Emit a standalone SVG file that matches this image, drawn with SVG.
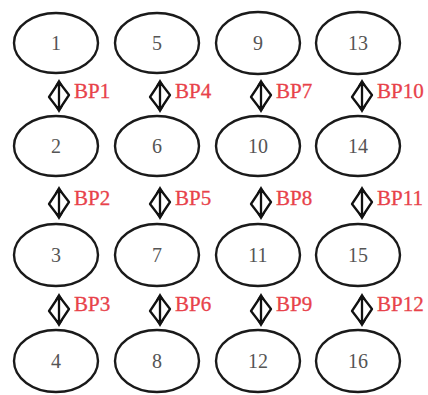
<svg xmlns="http://www.w3.org/2000/svg" xmlns:xlink="http://www.w3.org/1999/xlink" width="428" height="395" viewBox="0 0 428 395">
<style>
.n ellipse{fill:#fff;stroke:#1a1a1a;stroke-width:2.4}
.n text{font-family:"Liberation Serif","Times New Roman",serif;font-size:20px;fill:#555;text-anchor:middle}
.bp{font-family:"Liberation Serif","Times New Roman",serif;font-size:21px;fill:#e8424a;stroke:#e8424a;stroke-width:0.3}
.c path{fill:none;stroke:#111;stroke-width:2.3;stroke-linejoin:round}
.c path.h{fill:#111;stroke:none}
</style>
<defs>
<g id="conn" class="c">
<path d="M0,-14 L-10,1 L0,14 L10,-1 Z"/>
<path d="M0,-12 V12"/>
<path class="h" d="M0,-17 L-4,-10 L4,-10 Z"/>
<path class="h" d="M0,17 L-4,10 L4,10 Z"/>
</g>
</defs>
<rect width="428" height="395" fill="#fff"/>
<g id="n1" class="n"><ellipse cx="56" cy="43" rx="42" ry="30"/><text x="56" y="50">1</text></g>
<g id="n2" class="n"><ellipse cx="56" cy="146" rx="42" ry="30"/><text x="56" y="153">2</text></g>
<g id="n3" class="n"><ellipse cx="56" cy="255" rx="42" ry="31"/><text x="56" y="262">3</text></g>
<g id="n4" class="n"><ellipse cx="56" cy="361" rx="42" ry="31"/><text x="56" y="368">4</text></g>
<g id="n5" class="n"><ellipse cx="157" cy="43" rx="42" ry="30"/><text x="157" y="50">5</text></g>
<g id="n6" class="n"><ellipse cx="157" cy="146" rx="42" ry="30"/><text x="157" y="153">6</text></g>
<g id="n7" class="n"><ellipse cx="157" cy="255" rx="42" ry="31"/><text x="157" y="262">7</text></g>
<g id="n8" class="n"><ellipse cx="157" cy="361" rx="42" ry="31"/><text x="157" y="368">8</text></g>
<g id="n9" class="n"><ellipse cx="258" cy="43" rx="42" ry="31"/><text x="258" y="50">9</text></g>
<g id="n10" class="n"><ellipse cx="258" cy="146" rx="42" ry="30"/><text x="258" y="153">10</text></g>
<g id="n11" class="n"><ellipse cx="258" cy="255" rx="42" ry="31"/><text x="258" y="262">11</text></g>
<g id="n12" class="n"><ellipse cx="258" cy="361" rx="42" ry="31"/><text x="258" y="368">12</text></g>
<g id="n13" class="n"><ellipse cx="358" cy="43" rx="42" ry="31"/><text x="358" y="50">13</text></g>
<g id="n14" class="n"><ellipse cx="358" cy="146" rx="42" ry="30"/><text x="358" y="153">14</text></g>
<g id="n15" class="n"><ellipse cx="358" cy="255" rx="42" ry="31"/><text x="358" y="262">15</text></g>
<g id="n16" class="n"><ellipse cx="358" cy="361" rx="42" ry="31"/><text x="358" y="368">16</text></g>
<g id="connectors">
<use xlink:href="#conn" x="59" y="96"/>
<use xlink:href="#conn" x="59" y="203"/>
<use xlink:href="#conn" x="59" y="310"/>
<use xlink:href="#conn" x="160" y="96"/>
<use xlink:href="#conn" x="160" y="203"/>
<use xlink:href="#conn" x="160" y="310"/>
<use xlink:href="#conn" x="261" y="96"/>
<use xlink:href="#conn" x="261" y="203"/>
<use xlink:href="#conn" x="261" y="310"/>
<use xlink:href="#conn" x="362" y="96"/>
<use xlink:href="#conn" x="362" y="203"/>
<use xlink:href="#conn" x="362" y="310"/>
</g>
<g id="labels">
<text class="bp" x="74" y="98">BP1</text>
<text class="bp" x="74" y="205">BP2</text>
<text class="bp" x="74" y="311">BP3</text>
<text class="bp" x="175" y="98">BP4</text>
<text class="bp" x="175" y="205">BP5</text>
<text class="bp" x="175" y="311">BP6</text>
<text class="bp" x="276" y="98">BP7</text>
<text class="bp" x="276" y="205">BP8</text>
<text class="bp" x="276" y="311">BP9</text>
<text class="bp" x="377" y="98">BP10</text>
<text class="bp" x="377" y="205">BP11</text>
<text class="bp" x="377" y="311">BP12</text>
</g>
</svg>
